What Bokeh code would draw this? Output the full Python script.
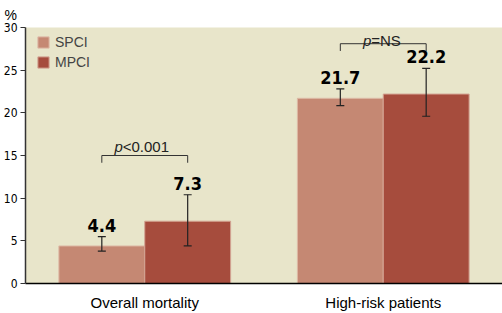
from bokeh.plotting import figure
from bokeh.models import ColumnDataSource, FactorRange, Range1d, Whisker, Legend, LegendItem
from bokeh.transform import dodge
from bokeh.core.properties import value
from bokeh.embed import file_html
from bokeh.resources import INLINE

categories = ["Overall mortality", "High-risk patients"]
spci = [4.4, 21.7]
mpci = [7.3, 22.2]
spci_lower = [3.8, 20.85]
spci_upper = [5.5, 22.8]
mpci_lower = [4.4, 19.6]
mpci_upper = [10.4, 25.2]
p_prefix = ["p", "p"]
p_rest = ["<0.001", "=NS"]
bracket_y = [15.0, 28.1]
bracket_drop = [14.15, 27.25]
p_label_y = [16.1, 28.45]
y_ticks = [0, 5, 10, 15, 20, 25, 30]

SPCI_COLOR = "#C58873"
MPCI_COLOR = "#A64C3D"
BG = "#E8E5CA"
COND = "DejaVu Sans Condensed"
SANS = "Liberation Sans"

src_s = ColumnDataSource(dict(cat=categories, val=spci, lo=spci_lower, up=spci_upper,
                              txt=[f"{v:.1f}" for v in spci]))
src_m = ColumnDataSource(dict(cat=categories, val=mpci, lo=mpci_lower, up=mpci_upper,
                              txt=[f"{v:.1f}" for v in mpci]))

p = figure(width=502, height=313, x_range=FactorRange(*categories, range_padding=0),
           y_range=Range1d(0, 30), output_backend="svg", toolbar_location=None,
           min_border_left=25, min_border_right=0, min_border_top=27, min_border_bottom=25)
p.background_fill_color = BG
p.border_fill_color = "white"
p.outline_line_color = None
p.xgrid.grid_line_color = None
p.ygrid.grid_line_color = None

p.title.text = "%"
p.title.align = "left"
p.title.offset = -21
p.title.standoff = 9
p.title.text_font = SANS
p.title.text_font_size = "14px"
p.title.text_font_style = "normal"
p.title.text_color = "black"

rs = p.vbar(x=dodge("cat", -0.18, range=p.x_range), top="val", width=0.36, source=src_s,
            fill_color=SPCI_COLOR, line_color="#DDB9A6", line_width=1)
rm = p.vbar(x=dodge("cat", 0.18, range=p.x_range), top="val", width=0.36, source=src_m,
            fill_color=MPCI_COLOR, line_color="#D3A393", line_width=1)

for src, off in ((src_s, -0.18), (src_m, 0.18)):
    w = Whisker(base=dodge("cat", off, range=p.x_range), upper="up", lower="lo", source=src,
                line_color="#222222", line_width=1.2, level="overlay")
    for h in (w.upper_head, w.lower_head):
        h.size = 8
        h.line_color = "#222222"
        h.line_width = 1.2
    p.add_layout(w)
    p.text(x=dodge("cat", off, range=p.x_range), y="up", text="txt", source=src,
           text_align="center", text_baseline="bottom", y_offset=-5,
           text_font=value(COND), text_font_style="bold", text_font_size="18px",
           text_color="black")

# significance brackets
br = ColumnDataSource(dict(cat=categories, y=bracket_y, yd=bracket_drop))
p.segment(x0=dodge("cat", -0.18, range=p.x_range), x1=dodge("cat", 0.18, range=p.x_range),
          y0="y", y1="y", source=br, line_color="#333333", line_width=1)
for off in (-0.18, 0.18):
    p.segment(x0=dodge("cat", off, range=p.x_range), x1=dodge("cat", off, range=p.x_range),
              y0="y", y1="yd", source=br, line_color="#333333", line_width=1)

shift = [-22, -12]
for i in range(len(categories)):
    sub = ColumnDataSource(dict(cat=[categories[i]], ly=[p_label_y[i]],
                                pre=[p_prefix[i]], rest=[p_rest[i]]))
    p.text(x="cat", y="ly", text="pre", source=sub, text_align="right",
           text_baseline="alphabetic", x_offset=shift[i],
           text_font=value(SANS), text_font_style="italic", text_font_size="15px",
           text_color="#222222")
    p.text(x="cat", y="ly", text="rest", source=sub, text_align="left",
           text_baseline="alphabetic", x_offset=shift[i],
           text_font=value(SANS), text_font_size="15px", text_color="#222222")

legend = Legend(items=[LegendItem(label="SPCI", renderers=[rs]),
                       LegendItem(label="MPCI", renderers=[rm])],
                location=(11, 213))
legend.background_fill_alpha = 0
legend.border_line_alpha = 0
legend.glyph_width = 14
legend.glyph_height = 14
legend.label_height = 14
legend.label_text_font = SANS
legend.label_text_font_size = "14px"
legend.label_text_baseline = "middle"
legend.label_standoff = 5
legend.spacing = 4
legend.padding = 0
legend.margin = 0
p.add_layout(legend)

p.yaxis.ticker = y_ticks
p.yaxis.major_label_text_font = COND
p.yaxis.major_label_text_font_size = "12px"
p.yaxis.major_label_text_color = "black"
p.yaxis.axis_line_color = "#333333"
p.yaxis.axis_line_width = 1.5
p.yaxis.major_tick_line_color = "#333333"
p.yaxis.major_tick_in = 0
p.yaxis.major_tick_out = 5
p.yaxis.minor_tick_line_color = None
p.yaxis.major_label_standoff = 3

p.xaxis.axis_line_color = "black"
p.xaxis.axis_line_width = 1.5
p.xaxis.major_tick_line_color = None
p.xaxis.minor_tick_line_color = None
p.xaxis.major_label_text_font = SANS
p.xaxis.major_label_text_font_size = "15px"
p.xaxis.major_label_text_color = "black"
p.xaxis.major_label_standoff = 4

open("out.html", "w").write(file_html(p, INLINE))
